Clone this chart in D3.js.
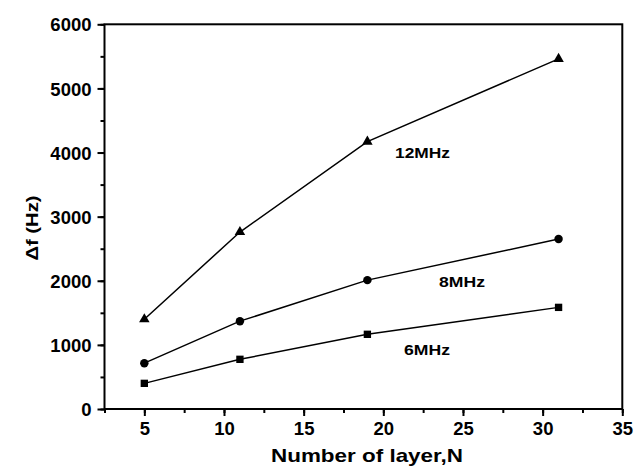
<!DOCTYPE html>
<html>
<head>
<meta charset="utf-8">
<script src="https://cdn.jsdelivr.net/npm/d3@7"></script>
<style>
	body { margin: 0; background: #fff; }
	text { font-family: "Liberation Sans", Arial, sans-serif; font-weight: bold; fill: #000; }
</style>
</head>
<body>
<div id="chart"></div>
<script>
const layers = [5, 11, 19, 31];
const f12 = [1400, 2760, 4170, 5460];
const f8 = [715, 1370, 2010, 2650];
const f6 = [400, 775, 1165, 1585];
const seriesNames = ["12MHz", "8MHz", "6MHz"];
const xTicks = [5, 10, 15, 20, 25, 30, 35];
const yTicks = [0, 1000, 2000, 3000, 4000, 5000, 6000];

const w = 635;
const h = 472;
const plotLeft = 104.5;
const plotRight = 622.3;
const plotTop = 24.3;
const plotBottom = 409;

const svg = d3
	.select("#chart")
	.append("svg")
	.attr("width", w)
	.attr("height", h);

const xScale = d3.scaleLinear().domain([2.5, 35]).range([plotLeft, plotRight]);
const yScale = d3.scaleLinear().domain([0, 6000]).range([plotBottom, plotTop]);

// minor ticks first, then major ones on top
const xMinor = d3.range(2.5, 35.1, 2.5);
const yMinor = d3.range(0, 6001, 500);

svg
	.append("g")
	.attr("transform", "translate(0," + plotBottom + ")")
	.call(d3.axisBottom(xScale).tickValues(xMinor).tickSize(4).tickFormat(""))
	.call((g) => g.select(".domain").remove())
	.selectAll("line")
	.attr("stroke-width", 2);

svg
	.append("g")
	.attr("transform", "translate(" + plotLeft + ",0)")
	.call(d3.axisLeft(yScale).tickValues(yMinor).tickSize(4).tickFormat(""))
	.call((g) => g.select(".domain").remove())
	.selectAll("line")
	.attr("stroke-width", 2);

const xAxis = svg
	.append("g")
	.attr("transform", "translate(0," + plotBottom + ")")
	.call(d3.axisBottom(xScale).tickValues(xTicks).tickFormat(d3.format("d")).tickSize(7).tickPadding(6));
xAxis.select(".domain").remove();
xAxis.selectAll("line").attr("stroke-width", 2);
xAxis.selectAll("text").style("font-size", "18.5px");

const yAxis = svg
	.append("g")
	.attr("transform", "translate(" + plotLeft + ",0)")
	.call(d3.axisLeft(yScale).tickValues(yTicks).tickFormat(d3.format("d")).tickSize(7).tickPadding(6));
yAxis.select(".domain").remove();
yAxis.selectAll("line").attr("stroke-width", 2);
yAxis.selectAll("text").style("font-size", "18.5px").attr("dy", "0.36em");

// frame
svg
	.append("rect")
	.attr("x", plotLeft)
	.attr("y", plotTop)
	.attr("width", plotRight - plotLeft)
	.attr("height", plotBottom - plotTop)
	.attr("fill", "none")
	.attr("stroke", "#000")
	.attr("stroke-width", 2);

const line = d3
	.line()
	.x((d, i) => xScale(layers[i]))
	.y((d) => yScale(d));

const allSeries = [f12, f8, f6];
const symbols = [d3.symbolTriangle, d3.symbolCircle, d3.symbolSquare];
const symSizes = [48, 56, 54];

allSeries.forEach((vals, s) => {
	svg
		.append("path")
		.datum(vals)
		.attr("d", line)
		.attr("fill", "none")
		.attr("stroke", "#000")
		.attr("stroke-width", 1.5);

	svg
		.selectAll(".pt" + s)
		.data(vals)
		.enter()
		.append("path")
		.attr("class", "pt" + s)
		.attr("d", d3.symbol().type(symbols[s]).size(symSizes[s]))
		.attr("transform", (d, i) => "translate(" + xScale(layers[i]) + "," + yScale(d) + ")")
		.attr("fill", "#000");
});

// series labels
const labelPos = [
	[395, 157.5, 55],
	[439, 287, 46],
	[404, 355, 46]
];
seriesNames.forEach((name, i) => {
	svg
		.append("text")
		.attr("x", labelPos[i][0])
		.attr("y", labelPos[i][1])
		.attr("textLength", labelPos[i][2])
		.attr("lengthAdjust", "spacingAndGlyphs")
		.style("font-size", "14px")
		.text(name);
});

svg
	.append("text")
	.attr("x", 367)
	.attr("y", 462)
	.attr("text-anchor", "middle")
	.attr("textLength", 192)
	.attr("lengthAdjust", "spacingAndGlyphs")
	.style("font-size", "19px")
	.text("Number of layer,N");

svg
	.append("text")
	.attr("transform", "translate(38," + 228 + ") rotate(-90)")
	.attr("text-anchor", "middle")
	.attr("textLength", 65)
	.attr("lengthAdjust", "spacingAndGlyphs")
	.style("font-size", "17px")
	.text("Δf (Hz)");
</script>
</body>
</html>
